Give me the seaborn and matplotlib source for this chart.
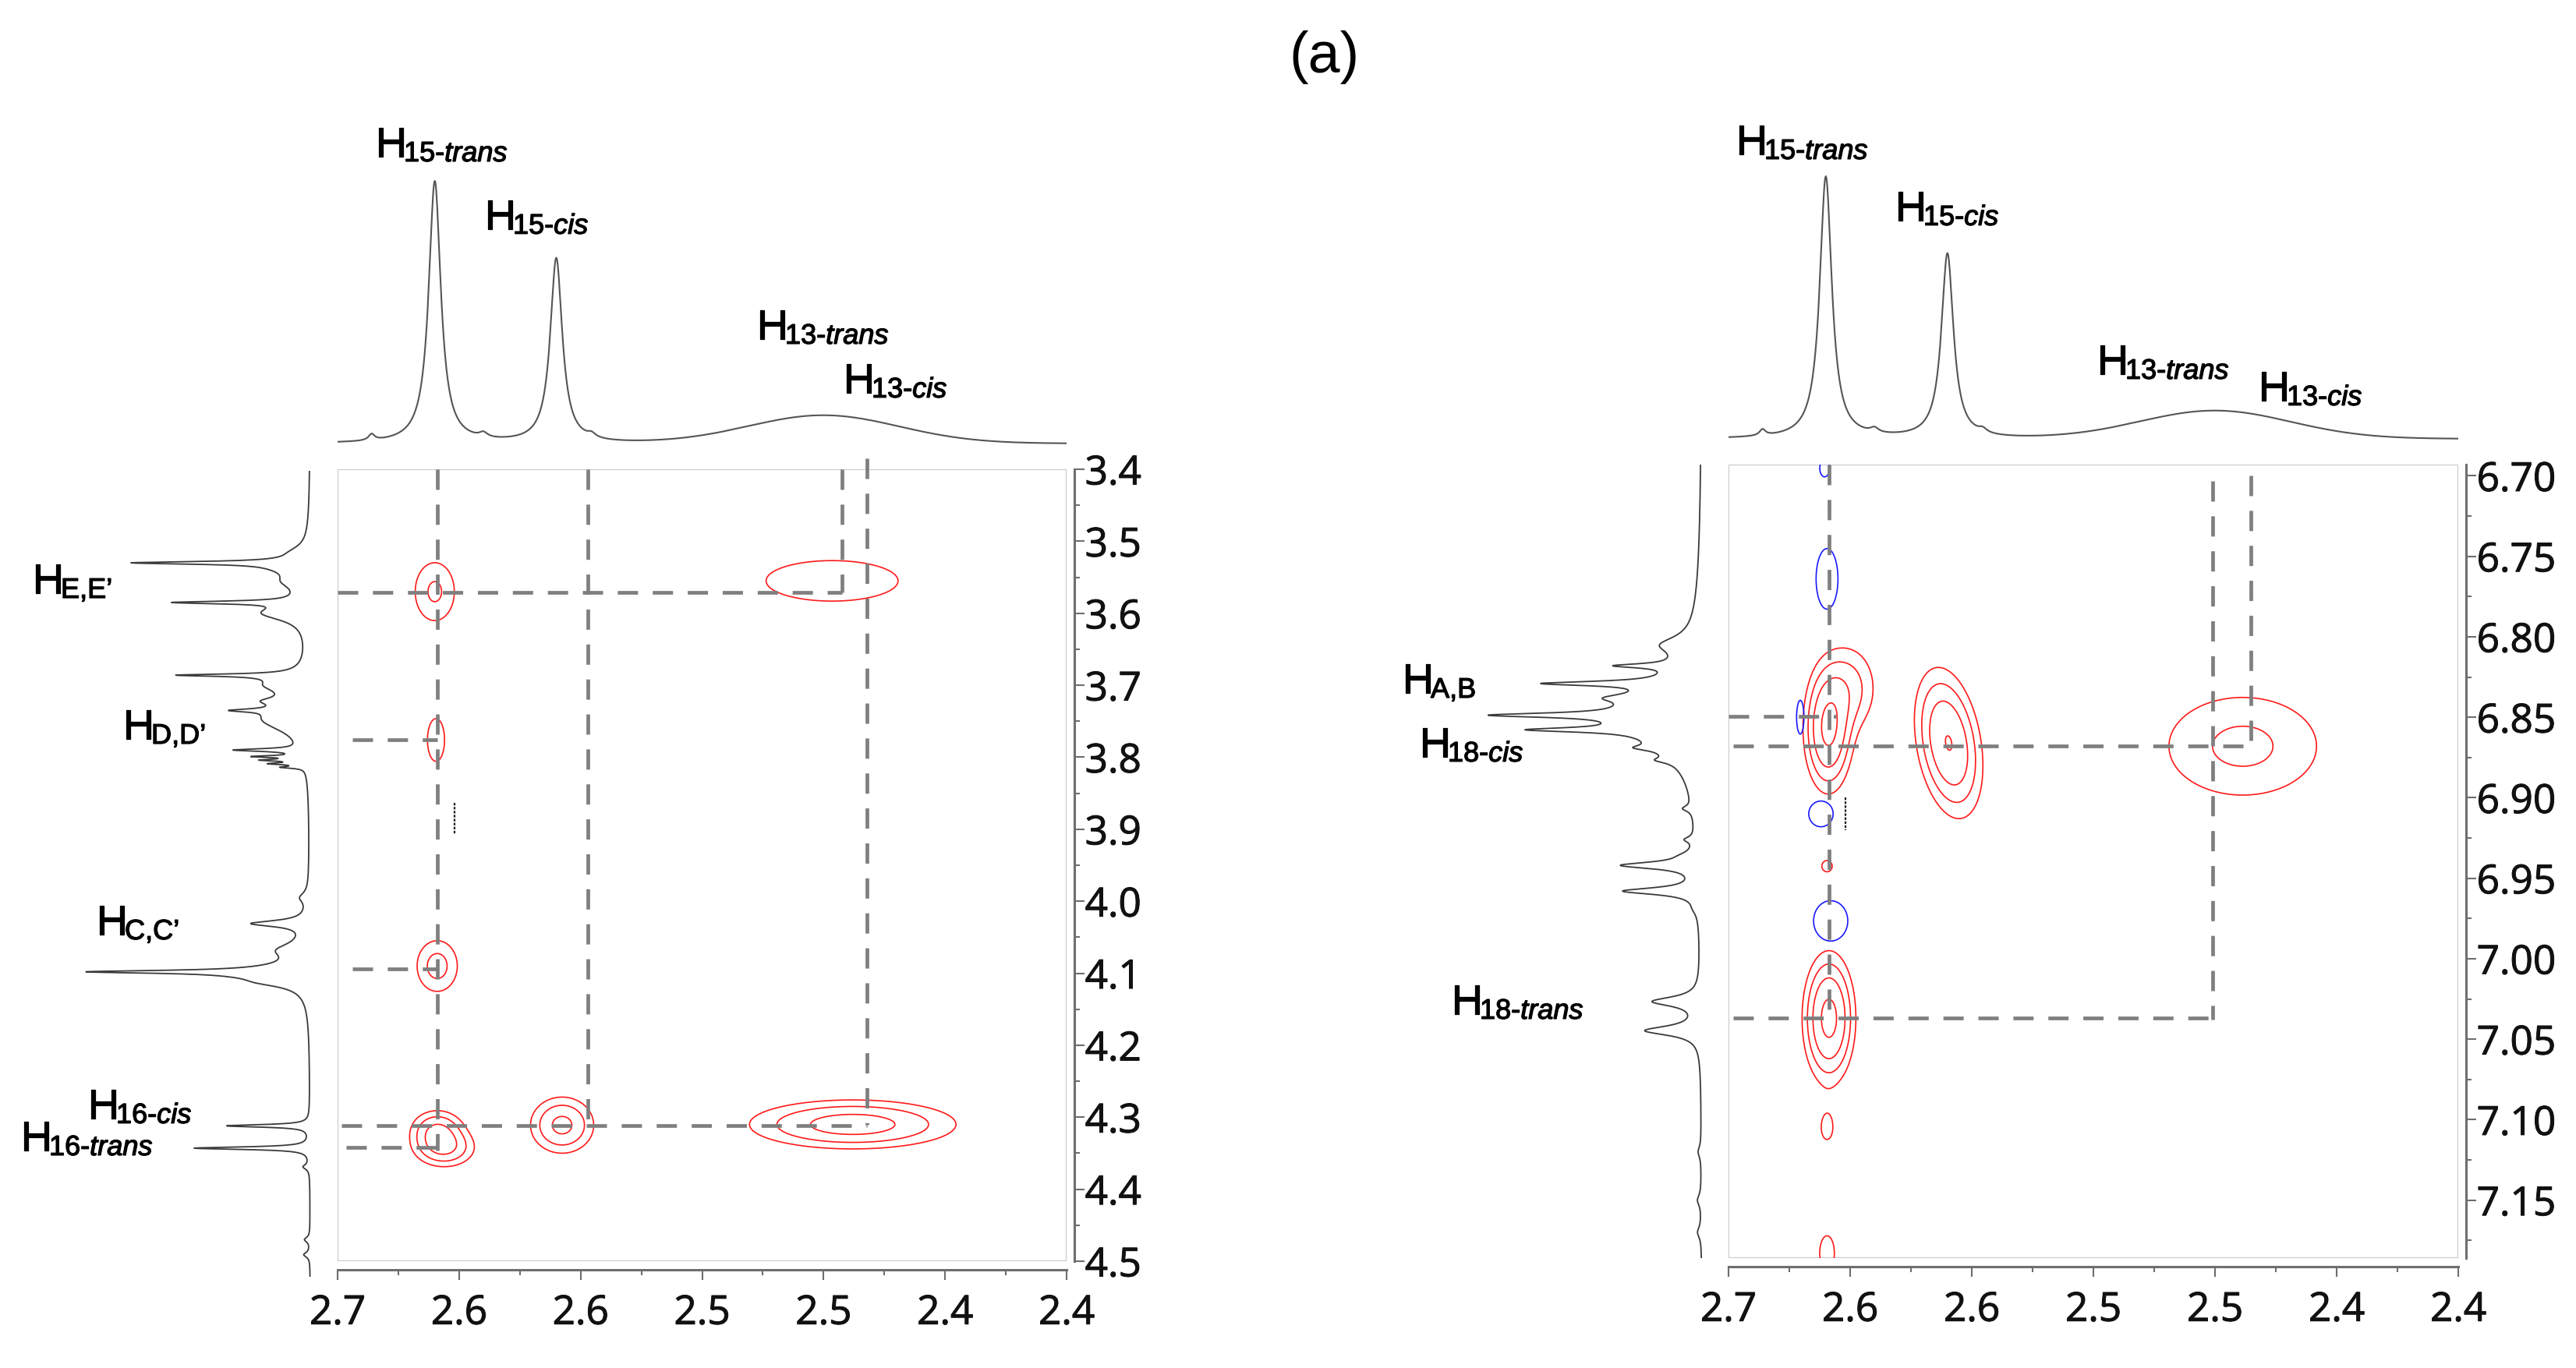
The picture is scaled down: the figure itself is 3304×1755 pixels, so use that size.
import numpy as np
import matplotlib
matplotlib.use("Agg")
import matplotlib.pyplot as plt
import matplotlib.patheffects as pe
import seaborn as sns
from matplotlib.ticker import FixedLocator, FixedFormatter
from matplotlib.patches import Rectangle

W, H, DPI = 3304, 1755, 100

# ---------------- DATA ----------------
TITLE = "(a)"

# shared F2 (top) 1-D trace: Lorentzian lines + one broad hump
f2_peak_ppm    = [2.660, 2.610, 2.686, 2.640, 2.5955]
f2_peak_height = [336, 237, 8, 6, 5]
f2_peak_hwhm   = [0.0030, 0.0030, 0.0015, 0.0020, 0.0020]
f2_hump_ppm    = [2.500]
f2_hump_height = [36]
f2_hump_sigma  = [0.031]

x_ticks       = [2.70, 2.65, 2.60, 2.55, 2.50, 2.45, 2.40]
x_tick_labels = ["2.7", "2.6", "2.6", "2.5", "2.5", "2.4", "2.4"]
x_minor       = [2.675, 2.625, 2.575, 2.525, 2.475, 2.425]

# ---- panel A (left) F1 trace ----
a_f1_ppm    = [3.515, 3.530, 3.535, 3.585, 3.556, 3.600,
               3.686, 3.688, 3.700, 3.722, 3.735, 3.748,
               3.790, 3.799, 3.804, 3.809, 3.814, 3.995,
               4.031, 4.068, 4.098, 4.100, 4.113,
               4.312, 4.343, 4.369, 4.470, 4.491]
a_f1_height = [12, 190, 35, 150, 22, 55,
               125, 25, 42, 30, 55, 55,
               85, 58, 48, 40, 28, 10,
               70, 32, 195, 85, 30,
               106, 148, 8, 7, 8]
a_f1_hwhm   = [0.010, 0.0022, 0.012, 0.0022, 0.012, 0.012,
               0.0018, 0.006, 0.012, 0.006, 0.0025, 0.020,
               0.0022, 0.0015, 0.0015, 0.0015, 0.0015, 0.008,
               0.005, 0.012, 0.0022, 0.011, 0.007,
               0.0021, 0.0021, 0.004, 0.004, 0.004]
a_y_ticks   = [3.4, 3.5, 3.6, 3.7, 3.8, 3.9, 4.0, 4.1, 4.2, 4.3, 4.4, 4.5]
a_y_labels  = ["3.4", "3.5", "3.6", "3.7", "3.8", "3.9", "4.0", "4.1", "4.2", "4.3", "4.4", "4.5"]
a_y_minor   = [3.45, 3.55, 3.65, 3.75, 3.85, 3.95, 4.05, 4.15, 4.25, 4.35, 4.45]

# 2-D cross peaks (F2 ppm, F1 ppm, width F2, width F1, intensity, tilt)
a_pk_x   = [2.6600, 2.6595, 2.6590, 2.6590, 2.6560, 2.6076, 2.4880, 2.4965]
a_pk_y   = [3.570, 3.776, 4.090, 4.318, 4.343, 4.311, 4.310, 3.555]
a_pk_sx  = [0.0064, 0.0039, 0.0061, 0.0065, 0.0075, 0.0078, 0.0245, 0.0280]
a_pk_sy  = [0.032, 0.033, 0.026, 0.017, 0.016, 0.0234, 0.0196, 0.029]
a_pk_amp = [2.2, 1.5, 2.5, 3.5, 3.5, 4.0, 4.5, 1.6]
a_pk_rho = [0, 0, 0, 0, 0, 0, 0, 0]

# dashed correlation guides: (F2, F1 from, F1 to) and (F1, F2 from, F2 to)
a_vlines = [(2.659, 3.40, 4.346), (2.597, 3.40, 4.32), (2.4924, 3.40, 3.571), (2.482, 3.385, 4.31)]
a_hlines = [(3.571, 2.700, 2.4924), (3.776, 2.694, 2.659), (4.094, 2.694, 2.659),
            (4.312, 2.6985, 2.482), (4.342, 2.6965, 2.659)]
a_mark   = (2.652, 3.863, 3.908)

# ---- panel B (right) F1 trace ----
b_f1_ppm    = [6.805, 6.818, 6.829, 6.838, 6.8487, 6.8578, 6.869, 6.8767, 6.850,
               6.9067, 6.926, 6.936, 6.942, 6.958, 6.969,
               7.0266, 7.0447, 7.120, 7.150, 7.170]
b_f1_height = [35, 75, 150, 45, 170, 135, 30, 20, 95,
               12, 12, 10, 95, 95, 4,
               60, 70, 4, 5, 5]
b_f1_hwhm   = [0.006, 0.0015, 0.0016, 0.003, 0.0016, 0.0016, 0.002, 0.002, 0.021,
               0.002, 0.002, 0.003, 0.0025, 0.0025, 0.004,
               0.0035, 0.0035, 0.004, 0.004, 0.004]
b_y_ticks   = [6.70, 6.75, 6.80, 6.85, 6.90, 6.95, 7.00, 7.05, 7.10, 7.15]
b_y_labels  = ["6.70", "6.75", "6.80", "6.85", "6.90", "6.95", "7.00", "7.05", "7.10", "7.15"]
b_y_minor   = [6.725, 6.775, 6.825, 6.875, 6.925, 6.975, 7.025, 7.075, 7.125, 7.175]

b_pk_x   = [2.6590, 2.6510, 2.6095, 2.4886, 2.6587, 2.6595, 2.6595, 2.6595]
b_pk_y   = [6.858, 6.832, 6.866, 6.868, 7.037, 6.9425, 7.1055, 7.183]
b_pk_sx  = [0.0053, 0.0075, 0.0074, 0.0235, 0.0056, 0.0040, 0.0040, 0.0050]
b_pk_sy  = [0.0205, 0.017, 0.0247, 0.0235, 0.0213, 0.0066, 0.0123, 0.018]
b_pk_amp = [6.5, 2.6, 6.1, 2.3, 7.0, 1.15, 1.15, 1.2]
b_pk_rho = [0, 0, -0.3, 0, 0, 0, 0, 0]

b_neg_x   = [2.6595, 2.6705, 2.6620, 2.6580, 2.6605]
b_neg_y   = [6.764, 6.850, 6.910, 6.9765, 6.695]
b_neg_sx  = [0.0062, 0.0025, 0.0069, 0.0097, 0.0030]
b_neg_sy  = [0.026, 0.0174, 0.011, 0.0173, 0.008]
b_neg_amp = [1.3, 1.2, 1.3, 1.3, 1.2]

b_vlines = [(2.6585, 6.693, 7.037), (2.5011, 6.703, 7.038), (2.4854, 6.700, 6.868)]
b_hlines = [(6.8495, 2.700, 2.6559), (6.868, 2.698, 2.4854), (7.0368, 2.698, 2.499)]
b_mark   = (2.652, 6.900, 6.920)

pos_levels = [1.0, 2.0, 3.5, 6.0]
neg_levels = [1.0]

# peak labels: (H left px, H baseline px, regular subscript, italic subscript)
labels = [
    (482, 201, "15-", "trans"), (622, 294, "15-", "cis"),
    (971, 435, "13-", "trans"), (1082, 504, "13-", "cis"),
    (42, 761, "E,E\u2019", ""), (158, 948, "D,D\u2019", ""),
    (124, 1199, "C,C\u2019", ""), (113, 1435, "16-", "cis"), (27, 1476, "16-", "trans"),
    (2227, 198, "15-", "trans"), (2431, 283, "15-", "cis"),
    (2690, 480, "13-", "trans"), (2897, 514, "13-", "cis"),
    (1799, 889, "A,B", ""), (1821, 971, "18-", "cis"), (1862, 1301, "18-", "trans"),
]

# ---------------- STYLE ----------------
sns.set_theme(style="white")
plt.rcParams["font.family"] = ["Liberation Sans", "DejaVu Sans"]
plt.rcParams["mathtext.fontset"] = "custom"
plt.rcParams["mathtext.rm"] = "Liberation Sans"
plt.rcParams["mathtext.it"] = "Liberation Sans:italic"

AX_GRAY = "#6e6e6e"
DASH_GRAY = "#7f7f7f"
FRAME_GRAY = "#c8c8c8"
TICK_FONT = ["Open Sans", "DejaVu Sans"]
THICK = [pe.withStroke(linewidth=0.9, foreground="black")]


def lorentz(grid, centres, heights, widths):
    out = np.zeros_like(grid)
    for c, h, w in zip(centres, heights, widths):
        out += h / (1.0 + ((grid - c) / w) ** 2)
    return out


def gauss(grid, centres, heights, sigmas):
    out = np.zeros_like(grid)
    for c, h, s in zip(centres, heights, sigmas):
        out += h * np.exp(-0.5 * ((grid - c) / s) ** 2)
    return out


def field(X, Y, xs, ys, sxs, sys_, amps, rhos=None):
    Z = np.zeros_like(X)
    if rhos is None:
        rhos = [0] * len(xs)
    for x0, y0, sx, sy, a, r in zip(xs, ys, sxs, sys_, amps, rhos):
        dx = (X - x0) / sx
        dy = (Y - y0) / sy
        Z += a * np.exp(-(dx * dx - 2 * r * dx * dy + dy * dy) / (2 * (1 - r * r)))
    return Z


def fr(x0, y0, x1, y1):
    """pixel box -> figure fraction rect"""
    return [x0 / W, 1 - y1 / H, (x1 - x0) / W, (y1 - y0) / H]


fig = plt.figure(figsize=(W / DPI, H / DPI), dpi=DPI)
fig.patch.set_facecolor("white")

f2_grid = np.linspace(2.40, 2.70, 1501)
f2_trace = lorentz(f2_grid, f2_peak_ppm, f2_peak_height, f2_peak_hwhm) + \
    gauss(f2_grid, f2_hump_ppm, f2_hump_height, f2_hump_sigma)


def build_panel(main_box, top_box, side_box, ylim, side_ylim, side_xlim,
                f1_ppm, f1_h, f1_w, yt, ylab, ymin,
                pk, neg, vlines, hlines, mark):
    # top projection
    axt = fig.add_axes(fr(*top_box))
    sns.lineplot(x=f2_grid, y=f2_trace, ax=axt, color="#555555", linewidth=1.5,
                 estimator=None, sort=False)
    axt.set_xlim(2.70, 2.40)
    axt.set_ylim(-11, 354)
    axt.set_axis_off()

    # side projection
    axs = fig.add_axes(fr(*side_box))
    f1_grid = np.linspace(min(side_ylim), max(side_ylim), 2601)
    f1_trace = lorentz(f1_grid, f1_ppm, f1_h, f1_w)
    sns.lineplot(x=f1_trace, y=f1_grid, ax=axs, color="#3a3a3a", linewidth=1.3,
                 estimator=None, sort=False, orient="y")
    axs.set_ylim(*side_ylim)
    axs.set_xlim(*side_xlim)
    axs.set_axis_off()

    # main 2-D map
    ax = fig.add_axes(fr(*main_box))
    ax.set_xlim(2.70, 2.40)
    ax.set_ylim(*ylim)
    gx = np.linspace(2.40, 2.70, 601)
    gy = np.linspace(min(ylim) - 0.01, max(ylim) + 0.01, 801)
    X, Y = np.meshgrid(gx, gy)
    Zp = field(X, Y, *pk)
    ax.contour(X, Y, Zp, levels=pos_levels, colors="#ff1a1a", linewidths=1.2, zorder=2)
    if neg is not None:
        Zn = field(X, Y, *neg)
        ax.contour(X, Y, Zn, levels=neg_levels, colors="#1a1aff", linewidths=1.2, zorder=2)

    dash = (0, (5.5, 4))
    for x, y0, y1 in vlines:
        ax.plot([x, x], [y0, y1], color=DASH_GRAY, lw=3.4, ls=dash, zorder=3,
                clip_on=False, dash_capstyle="butt")
    for y, x0, x1 in hlines:
        ax.plot([x0, x1], [y, y], color=DASH_GRAY, lw=3.4, ls=dash, zorder=3,
                clip_on=False, dash_capstyle="butt")
    ax.plot([mark[0], mark[0]], [mark[1], mark[2]], color="#222222", lw=1.6,
            ls=(0, (1.5, 0.8)), zorder=3)

    ax.add_patch(Rectangle((0, 0), 1, 1, transform=ax.transAxes, fill=False,
                           ec=FRAME_GRAY, lw=1.5, zorder=1))
    for s in ("left", "top"):
        ax.spines[s].set_visible(False)
    ax.spines["right"].set_position(("outward", 7))
    ax.spines["bottom"].set_position(("outward", 8))
    for s in ("right", "bottom"):
        ax.spines[s].set_color(AX_GRAY)
        ax.spines[s].set_linewidth(2.2)
    ax.yaxis.tick_right()
    ax.xaxis.tick_bottom()
    ax.xaxis.set_major_locator(FixedLocator(x_ticks))
    ax.xaxis.set_major_formatter(FixedFormatter(x_tick_labels))
    ax.xaxis.set_minor_locator(FixedLocator(x_minor))
    ax.yaxis.set_major_locator(FixedLocator(yt))
    ax.yaxis.set_major_formatter(FixedFormatter(ylab))
    ax.yaxis.set_minor_locator(FixedLocator(ymin))
    ax.tick_params(which="major", length=9, width=1.5, color=AX_GRAY, direction="out",
                   labelsize=37, labelcolor="#111111")
    ax.tick_params(which="minor", length=5, width=1.5, color=AX_GRAY, direction="out")
    ax.tick_params(axis="y", which="major", pad=1)
    ax.tick_params(axis="x", which="major", pad=13)
    for lab in ax.get_xticklabels() + ax.get_yticklabels():
        lab.set_family(TICK_FONT)
        lab.set_path_effects([pe.withStroke(linewidth=0.7, foreground="#111111")])
    ax.set_xlabel("")
    ax.set_ylabel("")
    ax.set_facecolor("white")
    return ax


build_panel(main_box=(433, 602, 1368, 1618), top_box=(433, 215, 1368, 580),
            side_box=(60, 604, 405, 1638), ylim=(4.5, 3.4),
            side_ylim=(4.5 + 20 / 923.6, 3.4 + 2 / 923.6), side_xlim=(338, -7),
            f1_ppm=a_f1_ppm, f1_h=a_f1_height, f1_w=a_f1_hwhm,
            yt=a_y_ticks, ylab=a_y_labels, ymin=a_y_minor,
            pk=(a_pk_x, a_pk_y, a_pk_sx, a_pk_sy, a_pk_amp, a_pk_rho), neg=None,
            vlines=a_vlines, hlines=a_hlines, mark=a_mark)

build_panel(main_box=(2217, 596, 3153, 1614), top_box=(2217, 209, 3153, 574),
            side_box=(1880, 596, 2190, 1614), ylim=(7.186, 6.693),
            side_ylim=(7.186, 6.693), side_xlim=(303, -7),
            f1_ppm=b_f1_ppm, f1_h=b_f1_height, f1_w=b_f1_hwhm,
            yt=b_y_ticks, ylab=b_y_labels, ymin=b_y_minor,
            pk=(b_pk_x, b_pk_y, b_pk_sx, b_pk_sy, b_pk_amp, b_pk_rho),
            neg=(b_neg_x, b_neg_y, b_neg_sx, b_neg_sy, b_neg_amp),
            vlines=b_vlines, hlines=b_hlines, mark=b_mark)

# title
fig.text(1699 / W, 1 - 73 / H, TITLE, ha="center", va="center", fontsize=53,
         family=["Liberation Sans", "DejaVu Sans"], color="black")

# peak labels
for xh, yb, sub, it in labels:
    fig.text(xh / W, 1 - yb / H, "H", ha="left", va="baseline", fontsize=39,
             color="black", path_effects=THICK)
    s = sub + (r"$\mathit{" + it + "}$" if it else "")
    fig.text((xh + 36) / W, 1 - (yb + 6) / H, s, ha="left", va="baseline",
             fontsize=26, color="black", path_effects=THICK)

fig.savefig("out.png", dpi=DPI, facecolor="white")
